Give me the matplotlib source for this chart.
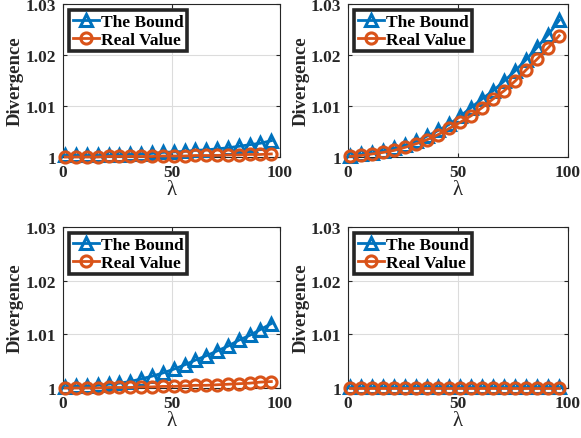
import matplotlib
matplotlib.use("Agg")
import matplotlib.pyplot as plt

lam = [1, 6, 11, 16, 21, 26, 31, 36, 41, 46, 51, 56, 61, 66, 71, 76, 81, 86, 91, 96]

bound_tl = [1.0003, 1.0003, 1.0003, 1.0003, 1.0003, 1.0004, 1.0005, 1.0006, 1.0007, 1.0009,
            1.0010, 1.0011, 1.0013, 1.0014, 1.0016, 1.0018, 1.0021, 1.0024, 1.0027, 1.0032]
real_tl = [1.0000, 1.0000, 1.0000, 1.0000, 1.0001, 1.0001, 1.0001, 1.0001, 1.0001, 1.0002,
           1.0002, 1.0002, 1.0003, 1.0003, 1.0003, 1.0004, 1.0004, 1.0005, 1.0005, 1.0006]

bound_tr = [1.0002, 1.0005, 1.0008, 1.0012, 1.0017, 1.0023, 1.0031, 1.0041, 1.0052, 1.0064,
            1.0080, 1.0097, 1.0114, 1.0130, 1.0149, 1.0169, 1.0191, 1.0215, 1.0240, 1.0268]
real_tr = [1.0001, 1.0003, 1.0006, 1.0009, 1.0013, 1.0019, 1.0026, 1.0034, 1.0044, 1.0056,
           1.0068, 1.0081, 1.0097, 1.0114, 1.0130, 1.0149, 1.0171, 1.0192, 1.0214, 1.0238]

bound_bl = [1.0002, 1.0003, 1.0004, 1.0005, 1.0007, 1.0009, 1.0012, 1.0017, 1.0022, 1.0028,
            1.0035, 1.0043, 1.0052, 1.0060, 1.0069, 1.0078, 1.0089, 1.0098, 1.0109, 1.0120]
real_bl = [1.0000, 1.0000, 1.0000, 1.0000, 1.0001, 1.0001, 1.0001, 1.0002, 1.0002, 1.0003,
           1.0003, 1.0004, 1.0005, 1.0005, 1.0006, 1.0007, 1.0008, 1.0009, 1.0011, 1.0012]

bound_br = [1.0001] * 20
real_br = [1.0000] * 20

panels = [(bound_tl, real_tl), (bound_tr, real_tr), (bound_bl, real_bl), (bound_br, real_br)]

yticks = [1.00, 1.01, 1.02, 1.03]
ytick_labels = ["1", "1.01", "1.02", "1.03"]
xticks = [0, 50, 100]
xtick_labels = ["0", "50", "100"]
legend_labels = ["The Bound", "Real Value"]

W, H = 581, 439
fig = plt.figure(figsize=(W / 100, H / 100), dpi=100)

boxes = [(63, 5, 280, 158), (348, 5, 568, 158), (63, 228, 280, 389), (348, 228, 568, 389)]
ylabel_x = [-0.221, -0.214, -0.221, -0.214]

blue = "#0072BD"
orange = "#D95319"
axcol = "#262626"
serif = ["Liberation Serif", "DejaVu Serif"]

for (l, t, r, b), (bd, rv), lx in zip(boxes, panels, ylabel_x):
    ax = fig.add_axes([l / W, 1 - b / H, (r - l) / W, (b - t) / H])
    ax.plot(lam, bd, color=blue, lw=2.0, marker="^", ms=9, mfc="none", mew=2.2,
            label=legend_labels[0], clip_on=False, zorder=3)
    ax.plot(lam, rv, color=orange, lw=2.0, marker="o", ms=8, mfc="none", mew=2.2,
            label=legend_labels[1], clip_on=False, zorder=4)
    ax.set_xlim(0, 100)
    ax.set_ylim(1.0, 1.03)
    ax.set_xticks(xticks)
    ax.set_xticklabels(xtick_labels)
    ax.set_yticks(yticks)
    ax.set_yticklabels(ytick_labels)
    ax.grid(True, color="#dcdcdc", lw=0.8)
    ax.set_axisbelow(True)
    ax.tick_params(direction="in", length=3, width=0.8, top=True, right=True,
                   colors=axcol, labelcolor=axcol, pad=5)
    for lab in ax.get_xticklabels() + ax.get_yticklabels():
        lab.set_fontfamily(serif)
        lab.set_fontweight("bold")
        lab.set_fontsize(12.5)
    for s in ax.spines.values():
        s.set_color(axcol)
        s.set_linewidth(0.8)
    ax.set_ylabel("Divergence", fontfamily=serif, fontweight="bold", fontsize=13.5,
                  color=axcol, va="center")
    ax.yaxis.set_label_coords(lx, 0.5)
    ax.set_xlabel("λ", fontfamily=serif, fontsize=15, color=axcol, labelpad=0)
    leg = ax.legend(loc="upper left", prop={"family": serif, "weight": "bold", "size": 12.5},
                    frameon=True, fancybox=False, handlelength=1.5, handletextpad=0.15,
                    borderpad=0.2, labelspacing=0.1, borderaxespad=0.35)
    for txt in leg.get_texts():
        txt.set_color("black")
    leg.get_frame().set_edgecolor("#262626")
    leg.get_frame().set_linewidth(2.6)
    leg.get_frame().set_alpha(1)

fig.savefig("out.png", dpi=100)
